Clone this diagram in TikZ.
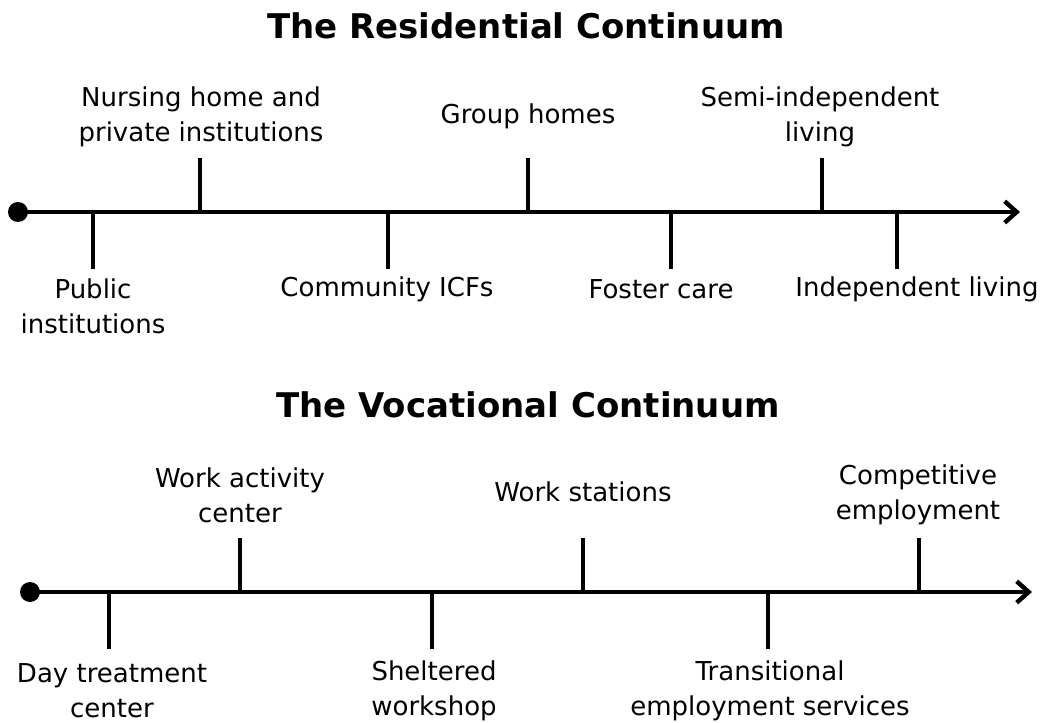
\documentclass[tikz,border=0pt]{standalone}
\usepackage{fontspec}
\setmainfont{DejaVu Sans}
\usetikzlibrary{arrows.meta}
\begin{document}
\begin{tikzpicture}[x=0.75pt,y=-0.75pt,
  axis/.style={line width=3.3pt, -{Straight Barb[length=9pt,width=16pt,line width=3.3pt]}},
  tickline/.style={line width=3.3pt},
  lbl/.style={font=\fontsize{19.5}{26.25}\selectfont, align=center, inner sep=0pt},
  ttl/.style={font=\fontsize{25.5}{30}\selectfont\bfseries, inner sep=0pt},
  startdot/.style={circle, fill=black, minimum size=15pt, inner sep=0pt}]
\useasboundingbox (0,0) rectangle (1042,723);

% ---------- Residential ----------
\node[ttl] (rtitle) at (526,26) {The Residential Continuum};
\node[startdot] (r0) at (18,212) {};
\coordinate (r1) at (1020,212);
\draw[axis] (r0.center) -- (r1);

\coordinate (ra) at (93,212);  \coordinate (rae) at (93,269);
\coordinate (rb) at (200,212); \coordinate (rbe) at (200,158);
\coordinate (rc) at (388,212); \coordinate (rce) at (388,269);
\coordinate (rd) at (528,212); \coordinate (rde) at (528,158);
\coordinate (re) at (671,212); \coordinate (ree) at (671,269);
\coordinate (rf) at (822,212); \coordinate (rfe) at (822,158);
\coordinate (rg) at (897,212); \coordinate (rge) at (897,269);
\foreach \t in {ra,rb,rc,rd,re,rf,rg} \draw[tickline] (\t) -- (\t e);

\node[lbl] (la) at (93,306) {Public\\institutions};
\node[lbl] (lb) at (201,117) {Nursing home and\\private institutions};
\node[lbl] (lc) at (387,289) {Community ICFs};
\node[lbl] (ld) at (528,116) {Group homes};
\node[lbl] (le) at (661,289) {Foster care};
\node[lbl] (lf) at (820,117) {Semi-independent\\living};
\node[lbl] (lg) at (917,289) {Independent living};

% ---------- Vocational ----------
\node[ttl] (vtitle) at (528,405) {The Vocational Continuum};
\node[startdot] (v0) at (30,592) {};
\coordinate (v1) at (1032,592);
\draw[axis] (v0.center) -- (v1);

\coordinate (va) at (109,592); \coordinate (vae) at (109,649);
\coordinate (vb) at (240,592); \coordinate (vbe) at (240,538);
\coordinate (vc) at (432,592); \coordinate (vce) at (432,649);
\coordinate (vd) at (583,592); \coordinate (vde) at (583,538);
\coordinate (ve) at (768,592); \coordinate (vee) at (768,649);
\coordinate (vf) at (919,592); \coordinate (vfe) at (919,538);
\foreach \t in {va,vb,vc,vd,ve,vf} \draw[tickline] (\t) -- (\t e);

\node[lbl] (ma) at (112,691) {Day treatment\\center};
\node[lbl] (mb) at (240,495) {Work activity\\center};
\node[lbl] (mc) at (434,691) {Sheltered\\workshop};
\node[lbl] (md) at (583,492) {Work stations};
\node[lbl] (me) at (770,691) {Transitional\\employment services};
\node[lbl] (mf) at (918,495) {Competitive\\employment};
\end{tikzpicture}
\end{document}
